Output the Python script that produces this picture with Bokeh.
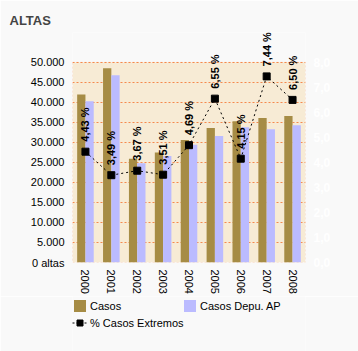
import math
from bokeh.plotting import figure
from bokeh.layouts import column
from bokeh.models import (Range1d, LinearAxis, FixedTicker, ColumnDataSource,
                          LabelSet, Legend, LegendItem, BoxAnnotation)
from bokeh.core.properties import value
from bokeh.transform import dodge
from bokeh.embed import file_html
from bokeh.resources import INLINE

years = ["2000", "2001", "2002", "2003", "2004", "2005", "2006", "2007", "2008"]
casos = [42000, 48500, 25900, 27500, 30600, 33600, 35300, 36100, 36600]
casos_depu = [40300, 46800, 24800, 26600, 29400, 31600, 33800, 33300, 34300]
pct_extremos = [4.43, 3.49, 3.67, 3.51, 4.69, 6.55, 4.15, 7.44, 6.50]
left_ticks = [0, 5000, 10000, 15000, 20000, 25000, 30000, 35000, 40000, 45000, 50000]
right_ticks = [0, 1, 2, 3, 4, 5, 6, 7, 8]
LEFT_MAX = 50000
RIGHT_MAX = 8

FONT = "Liberation Sans"
C_CASOS = "#a68c45"
C_DEPU = "#bbbbff"
C_GRID = "#f5894c"
BG = "#f9f9f9"

# layout (pixels)
W = 358
H1 = 296
H2 = 351 - H1
BL, BR = 72, 53
FRAME_TOP = 32
FRAME_BOTTOM = 263
BOX_TOP = 62
scale = (FRAME_BOTTOM - FRAME_TOP) / (FRAME_BOTTOM - BOX_TOP)

src = ColumnDataSource(dict(
    year=years, casos=casos, depu=casos_depu, pct=pct_extremos,
    pct_lbl=[f"{v:.2f} %".replace(".", ",") for v in pct_extremos],
))

p = figure(width=W, height=H1, x_range=years, y_range=Range1d(0, LEFT_MAX * scale),
           output_backend="svg", toolbar_location=None,
           min_border_left=BL, min_border_right=BR, min_border_top=FRAME_TOP,
           min_border_bottom=H1 - FRAME_BOTTOM)
p.extra_y_ranges = {"pct": Range1d(0, RIGHT_MAX * scale)}

p.background_fill_color = BG
p.border_fill_color = BG
p.outline_line_color = None

p.title.text = "ALTAS"
p.title.text_font = FONT
p.title.text_font_size = "13px"
p.title.text_font_style = "bold"
p.title.align = "left"
p.title.offset = -63

box = BoxAnnotation(bottom=0, top=LEFT_MAX, fill_color="#f7ebd5", fill_alpha=1,
                    line_color=C_GRID, line_dash="2 2", line_width=1, level="image")
p.add_layout(box)

p.xgrid.grid_line_color = None
p.ygrid.grid_line_color = C_GRID
p.ygrid.grid_line_dash = "2 2"
p.ygrid.ticker = FixedTicker(ticks=left_ticks)

r1 = p.vbar(x=dodge("year", -0.16, range=p.x_range), top="casos", width=0.32,
            source=src, fill_color=C_CASOS, line_color=None)
r2 = p.vbar(x=dodge("year", 0.16, range=p.x_range), top="depu", width=0.32,
            source=src, fill_color=C_DEPU, line_color=None)
r3 = p.line(x="year", y="pct", source=src, y_range_name="pct",
            line_color="black", line_dash="2 3", line_width=1)
r4 = p.scatter(x="year", y="pct", source=src, y_range_name="pct",
               marker="square", size=7, fill_color="black", line_color="black")

labels = LabelSet(x="year", y="pct", text="pct_lbl", source=src, y_range_name="pct",
                  angle=math.pi / 2, text_align="left", text_baseline="middle",
                  y_offset=10, text_font=value(FONT), text_font_size=value("11px"),
                  text_font_style="bold", text_color="black")
p.add_layout(labels)


def plain_axis(a, standoff, size, color="black", style="normal"):
    a.axis_line_color = None
    a.major_tick_line_color = None
    a.minor_tick_line_color = None
    a.major_tick_out = 0
    a.major_tick_in = 0
    a.minor_tick_out = 0
    a.minor_tick_in = 0
    a.major_label_standoff = standoff
    a.major_label_text_font = FONT
    a.major_label_text_font_size = size
    a.major_label_text_font_style = style
    a.major_label_text_color = color


# left axis
ax = p.yaxis[0]
ax.ticker = FixedTicker(ticks=left_ticks)
ax.major_label_overrides = {t: ("0 altas" if t == 0 else f"{t:,}".replace(",", ".")) for t in left_ticks}
plain_axis(ax, 8, "11px")

# right axis
rax = LinearAxis(y_range_name="pct", ticker=FixedTicker(ticks=right_ticks))
rax.major_label_overrides = {t: f"{t:.1f}".replace(".", ",") for t in right_ticks}
plain_axis(rax, 8, "12px", color="white", style="bold")
p.add_layout(rax, "right")

# x axis
xa = p.xaxis[0]
xa.major_label_orientation = "vertical"
plain_axis(xa, 7, "11px")

# legend strip
q = figure(width=W, height=H2, x_range=Range1d(0, 1), y_range=Range1d(0, 1),
           output_backend="svg", toolbar_location=None,
           x_axis_location=None, y_axis_location=None,
           min_border_left=BL, min_border_right=BR, min_border_top=0,
           min_border_bottom=0)
q.background_fill_color = BG
q.border_fill_color = BG
q.outline_line_color = None
q.grid.grid_line_color = None
# hidden single points (outside the visible range) so the legend swatches get their styles
hidden = ColumnDataSource(dict(x=[-5], y=[-5]))
lr1 = q.vbar(x="x", top="y", width=0.1, source=hidden, fill_color=C_CASOS, line_color=None)
lr2 = q.vbar(x="x", top="y", width=0.1, source=hidden, fill_color=C_DEPU, line_color=None)
lr3 = q.line(x="x", y="y", source=hidden, line_color="black", line_dash="2 2", line_width=1)
lr4 = q.scatter(x="x", y="y", source=hidden, marker="square", size=7,
                fill_color="black", line_color="black")


def make_legend(label, rends, loc):
    lg = Legend(items=[LegendItem(label=label, renderers=rends)], location=loc)
    lg.background_fill_alpha = 0
    lg.border_line_color = None
    lg.label_text_font = FONT
    lg.label_text_font_size = "11px"
    lg.label_text_color = "black"
    lg.glyph_width = 15
    lg.glyph_height = 15
    lg.label_height = 15
    lg.label_standoff = 3
    lg.padding = 0
    lg.margin = 0
    lg.spacing = 0
    q.add_layout(lg)


make_legend("Casos", [lr1], (0, H2 - 2 - 15))
make_legend("Casos Depu. AP", [lr2], (182 - BL, H2 - 2 - 15))
make_legend("% Casos Extremos", [lr3, lr4], (0, H2 - 34))

open("out.html", "w").write(file_html(column(p, q, spacing=0), INLINE))
